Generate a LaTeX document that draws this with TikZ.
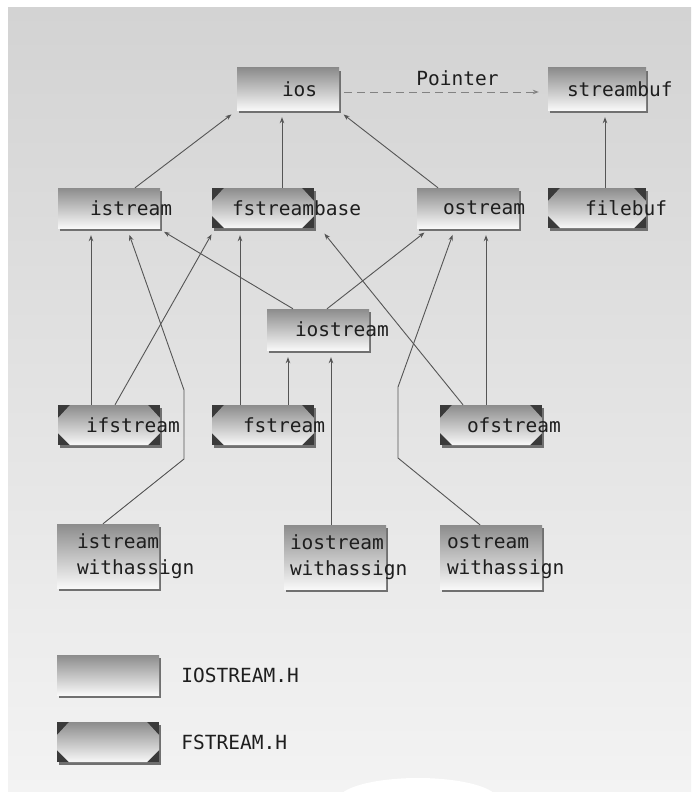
\documentclass[tikz,border=0pt]{standalone}
\usepackage{fontspec}
\setmonofont{DejaVu Sans Mono}
\usetikzlibrary{positioning, arrows.meta, shadows}

\definecolor{bgtop}{RGB}{211,211,211}
\definecolor{bgbot}{RGB}{243,243,243}
\definecolor{boxtop}{RGB}{140,140,140}
\definecolor{boxmid}{RGB}{222,222,222}
\definecolor{boxbot}{RGB}{248,248,248}
\definecolor{cornergray}{RGB}{58,58,58}
\definecolor{boxshadow}{RGB}{112,112,112}
\definecolor{linegray}{RGB}{85,85,85}
\definecolor{dashgray}{RGB}{130,130,130}
\definecolor{txtgray}{RGB}{30,30,30}

\tikzset{
  iobox/.style={rectangle, minimum width=102pt, minimum height=40pt, inner sep=0pt,
    top color=boxtop, middle color=boxmid, bottom color=boxbot,
    drop shadow={shadow xshift=2pt, shadow yshift=-3pt, fill=boxshadow, opacity=1}},
  fsbox/.style={rectangle, minimum width=102pt, minimum height=40pt, inner sep=0pt,
    fill=cornergray,
    drop shadow={shadow xshift=2pt, shadow yshift=-3pt, fill=boxshadow, opacity=1},
    path picture={
      \shade[top color=boxtop, middle color=boxmid, bottom color=boxbot]
        ([xshift=12pt]path picture bounding box.north west)
        -- ([xshift=-12pt]path picture bounding box.north east)
        -- ([yshift=-13pt]path picture bounding box.north east)
        -- ([yshift=12pt]path picture bounding box.south east)
        -- ([xshift=-12pt]path picture bounding box.south east)
        -- ([xshift=12pt]path picture bounding box.south west)
        -- ([yshift=12pt]path picture bounding box.south west)
        -- ([yshift=-13pt]path picture bounding box.north west) -- cycle;
    }},
  lbl/.style={font=\ttfamily\fontsize{19.5}{26}\selectfont, text=txtgray,
    inner sep=0pt, align=left},
  arr/.style={-{Stealth[length=6pt,width=4.5pt]}, draw=linegray, line width=0.9pt,
    shorten >=7pt},
  ptr/.style={-{Stealth[length=6pt,width=4.5pt]}, draw=dashgray, line width=1pt,
    dash pattern=on 8pt off 5pt, shorten <=5pt, shorten >=9pt}
}

\begin{document}
\begin{tikzpicture}[x=1pt, y=-1pt]

    % --- Page and background ---
    \useasboundingbox (0,0) rectangle (691,792);
    \fill[white] (0,0) rectangle (691,792);
    \shade[top color=bgtop, bottom color=bgbot] (8,8) rectangle (691,792);
    \fill[white] (418,800) ellipse [x radius=80, y radius=22];

    % --- Top row ---
    \node[iobox, minimum height=42pt] (ios) at (288,89) {};
    \node[lbl, right=45pt of ios.west] (ios-t) {ios};
    \node[iobox, minimum width=98pt, minimum height=42pt] (streambuf) at (597,89) {};
    \node[lbl, right=19pt of streambuf.west] (streambuf-t) {streambuf};

    % --- Second row ---
    \node[iobox] (istream) at (109,208) {};
    \node[lbl, right=32pt of istream.west] (istream-t) {istream};
    \node[fsbox] (fstreambase) at (263,208) {};
    \node[lbl, right=20pt of fstreambase.west] (fstreambase-t) {fstreambase};
    \node[iobox] (ostream) at (468,208) {};
    \node[lbl, right=26pt of ostream.west] (ostream-t) {ostream};
    \node[fsbox, minimum width=98pt] (filebuf) at (597,208) {};
    \node[lbl, right=37pt of filebuf.west] (filebuf-t) {filebuf};

    % --- Middle ---
    \node[iobox, minimum height=41pt] (iostream) at (318,329.5) {};
    \node[lbl, right=28pt of iostream.west] (iostream-t) {iostream};

    % --- File streams ---
    \node[fsbox] (ifstream) at (109,425) {};
    \node[lbl, right=28pt of ifstream.west] (ifstream-t) {ifstream};
    \node[fsbox] (fstream) at (263,425) {};
    \node[lbl, right=31pt of fstream.west] (fstream-t) {fstream};
    \node[fsbox] (ofstream) at (491,425) {};
    \node[lbl, right=27pt of ofstream.west] (ofstream-t) {ofstream};

    % --- withassign classes ---
    \node[iobox, minimum height=64pt] (iswa) at (108,556) {};
    \node[lbl, right=20pt of iswa.west] (iswa-t) {istream\\withassign};
    \node[iobox, minimum height=64pt] (ioswa) at (335,557) {};
    \node[lbl, right=6pt of ioswa.west] (ioswa-t) {iostream\\withassign};
    \node[iobox, minimum height=64pt] (oswa) at (491,557) {};
    \node[lbl, right=7pt of oswa.west] (oswa-t) {ostream\\withassign};

    % --- Legend ---
    \node[iobox] (leg-io) at (108,675) {};
    \node[lbl, right=22pt of leg-io.east] (leg-io-t) {IOSTREAM.H};
    \node[fsbox] (leg-fs) at (108,742) {};
    \node[lbl, right=22pt of leg-fs.east] (leg-fs-t) {FSTREAM.H};

    % --- Pointer ---
    \draw[ptr] ([yshift=-3pt]ios.east) -- ([yshift=-3pt]streambuf.west)
        node[lbl, midway, above=6pt, xshift=14pt] (ptr-t) {Pointer};

    % --- Inheritance arrows ---
    \draw[arr] ([xshift=26pt]istream.north) -- ([xshift=-51pt]ios.south);
    \draw[arr] ([xshift=19pt]fstreambase.north) -- ([xshift=-6pt]ios.south);
    \draw[arr] ([xshift=-30pt]ostream.north) -- ([xshift=50pt]ios.south);
    \draw[arr] ([xshift=8pt]filebuf.north) -- ([xshift=8pt]streambuf.south);

    \draw[arr] ([xshift=-25pt]iostream.north) -- ([xshift=49pt]istream.south);
    \draw[arr] ([xshift=9pt]iostream.north) -- ([xshift=-38pt]ostream.south);

    \draw[arr] ([xshift=-18pt]ifstream.north) -- ([xshift=-18pt]istream.south);
    \draw[arr] ([xshift=6pt]ifstream.north) -- ([xshift=-48pt]fstreambase.south);
    \draw[arr] ([xshift=-23pt]fstream.north) -- ([xshift=-23pt]fstreambase.south);
    \draw[arr] ([xshift=25pt]fstream.north) -- ([xshift=-30pt]iostream.south);
    \draw[arr] ([xshift=-28pt]ofstream.north) -- ([xshift=57pt]fstreambase.south);
    \draw[arr] ([xshift=-5pt]ofstream.north) -- ([xshift=18pt]ostream.south);

    % withassign links, bent
    \coordinate (iswa-b1) at (184,459);
    \coordinate (iswa-b2) at (184,390);
    \draw[arr] ([xshift=-5pt]iswa.north) -- (iswa-b1) -- (iswa-b2) -- ([xshift=18pt]istream.south);
    \draw[arr] ([xshift=-4pt]ioswa.north) -- ([xshift=13pt]iostream.south);
    \coordinate (oswa-b1) at (398,458);
    \coordinate (oswa-b2) at (398,387);
    \draw[arr] ([xshift=-11pt]oswa.north) -- (oswa-b1) -- (oswa-b2) -- ([xshift=-13pt]ostream.south);

\end{tikzpicture}
\end{document}
